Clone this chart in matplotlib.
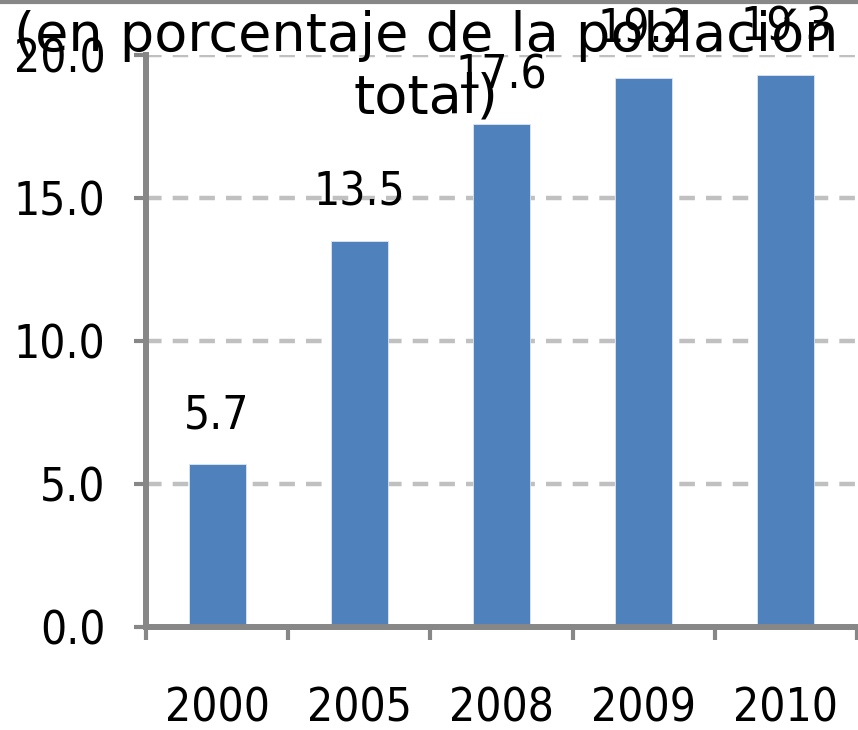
import matplotlib
matplotlib.use("Agg")
import matplotlib.pyplot as plt
from matplotlib.lines import Line2D
import numpy as np

categories = ["2000", "2005", "2008", "2009", "2010"]
values = [5.7, 13.5, 17.6, 19.2, 19.3]
yticks = [0, 5, 10, 15, 20]
title = "(en porcentaje de la población\ntotal)"

GRAY = "#878787"
BLUE = "#4F81BD"
FS = 33

fig = plt.figure(figsize=(8.58, 7.30), dpi=100)
ax = fig.add_axes([146/858, 103/730, 711/858, 572/730])

x = np.arange(len(categories))
bars = ax.bar(x, values, width=0.4, color=BLUE, edgecolor="#dce6f2", linewidth=0.6, zorder=3)
for xi, v in zip(x, values):
    ax.annotate(f"{v:.1f}", (xi, v), xytext=(0, 18), textcoords="offset points",
                ha="center", va="bottom", fontsize=FS, fontstretch="condensed")

ax.set_xlim(-0.5, len(categories) - 0.5)
ax.set_ylim(0, 20)
ax.set_yticks(yticks)
ax.set_yticklabels([f"{t:.1f}" for t in yticks], fontsize=FS, fontstretch="condensed")
ax.set_xticks(x)
ax.set_xticklabels(categories, fontsize=FS, fontstretch="condensed")
ax.set_xticks(np.arange(-0.5, len(categories)), minor=True)
ax.tick_params(axis="x", which="major", length=0, pad=43)
ax.tick_params(axis="x", which="minor", length=9, width=3, color=GRAY, direction="out")
ax.tick_params(axis="y", which="major", length=9, width=3, color=GRAY, pad=20)

for s in ["top", "right"]:
    ax.spines[s].set_visible(False)
for s in ["left", "bottom"]:
    ax.spines[s].set_color(GRAY)
    ax.spines[s].set_linewidth(4.3)
    ax.spines[s].set_zorder(4)

for t in yticks[1:]:
    ax.axhline(t, color="#c0c0c0", linewidth=3.2, dashes=(3.5, 2.5), zorder=1)

fig.text(426/858, 1 - 9/730, title, ha="center", va="top", fontsize=39, linespacing=1.22)
fig.add_artist(Line2D([0, 1], [1 - 1.5/730, 1 - 1.5/730], transform=fig.transFigure,
                      color=GRAY, linewidth=3))

fig.savefig("out.png", dpi=100)
